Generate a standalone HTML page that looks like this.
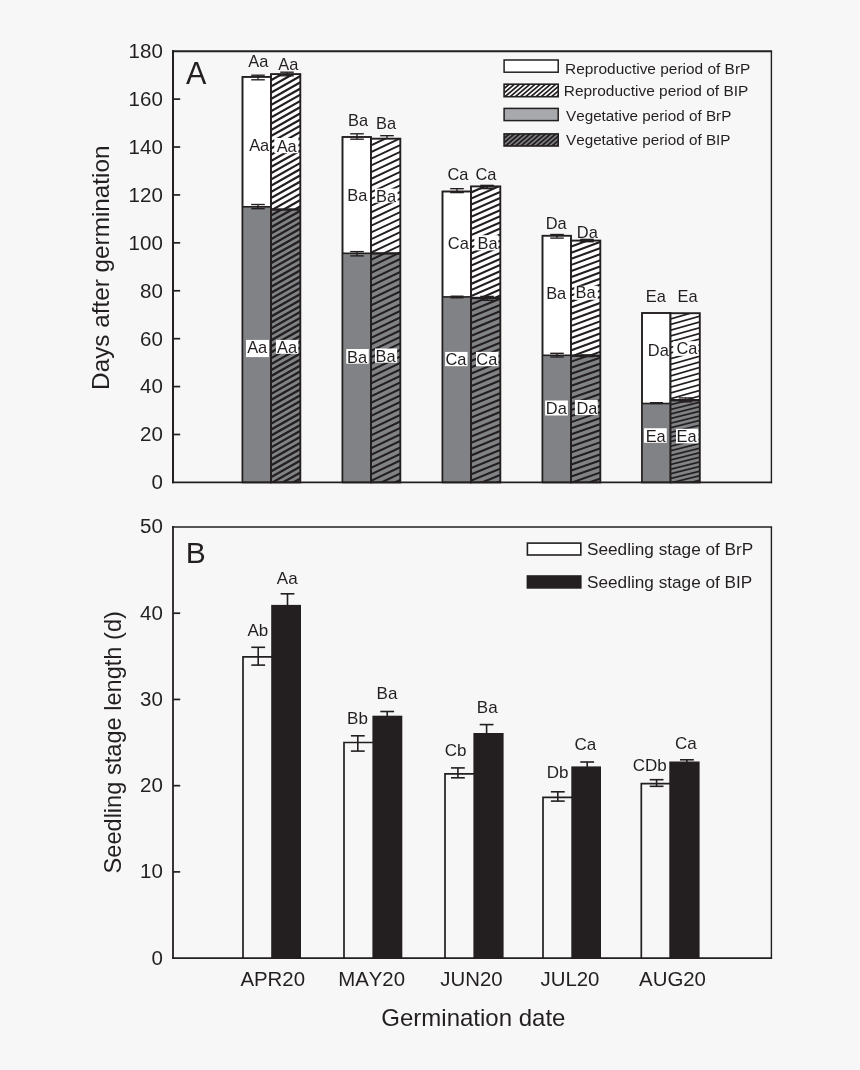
<!DOCTYPE html>
<html><head><meta charset="utf-8"><title>Figure</title>
<style>
html,body{margin:0;padding:0;background:#f7f7f7;}
body{width:860px;height:1070px;overflow:hidden;}
svg{display:block;will-change:transform;}
text{font-family:"Liberation Sans",sans-serif;fill:#231f20;font-kerning:none;}
</style></head><body>
<svg width="860" height="1070" viewBox="0 0 860 1070">
<rect x="0" y="0" width="860" height="1070" fill="#f7f7f7"/>
<defs><clipPath id="c1"><rect x="271.00" y="74.10" width="29.30" height="135.40"/></clipPath><clipPath id="c2"><rect x="271.00" y="209.50" width="29.30" height="272.90"/></clipPath><clipPath id="c3"><rect x="371.00" y="138.70" width="29.30" height="114.70"/></clipPath><clipPath id="c4"><rect x="371.00" y="253.40" width="29.30" height="229.00"/></clipPath><clipPath id="c5"><rect x="471.00" y="186.40" width="29.30" height="111.60"/></clipPath><clipPath id="c6"><rect x="471.00" y="298.00" width="29.30" height="184.40"/></clipPath><clipPath id="c7"><rect x="571.00" y="240.60" width="29.30" height="115.10"/></clipPath><clipPath id="c8"><rect x="571.00" y="355.70" width="29.30" height="126.70"/></clipPath><clipPath id="c9"><rect x="670.50" y="313.20" width="29.30" height="87.00"/></clipPath><clipPath id="c10"><rect x="670.50" y="400.20" width="29.30" height="82.20"/></clipPath><clipPath id="c11"><rect x="504.10" y="84.20" width="54.10" height="12.50"/></clipPath><clipPath id="c12"><rect x="504.10" y="133.90" width="54.10" height="12.10"/></clipPath></defs>
<!--bars A-->
<rect x="242.50" y="76.90" width="28.50" height="405.50" fill="#ffffff" stroke="#231f20" stroke-width="1.55"/>
<rect x="242.50" y="206.80" width="28.50" height="275.60" fill="#808285"/>
<path d="M242.50 206.80L271.00 206.80" stroke="#231f20" stroke-width="1.60" fill="none"/>
<rect x="242.50" y="76.90" width="28.50" height="405.50" fill="none" stroke="#231f20" stroke-width="1.55"/>
<rect x="271.00" y="74.10" width="29.30" height="135.40" fill="#ffffff"/>
<path d="M270.00 68.47L301.30 50.75M270.00 74.67L301.30 56.95M270.00 80.87L301.30 63.15M270.00 87.07L301.30 69.35M270.00 93.27L301.30 75.55M270.00 99.47L301.30 81.75M270.00 105.67L301.30 87.95M270.00 111.87L301.30 94.15M270.00 118.07L301.30 100.35M270.00 124.27L301.30 106.55M270.00 130.47L301.30 112.75M270.00 136.67L301.30 118.95M270.00 142.87L301.30 125.15M270.00 149.07L301.30 131.35M270.00 155.27L301.30 137.55M270.00 161.47L301.30 143.75M270.00 167.67L301.30 149.95M270.00 173.87L301.30 156.15M270.00 180.07L301.30 162.35M270.00 186.27L301.30 168.55M270.00 192.47L301.30 174.75M270.00 198.67L301.30 180.95M270.00 204.87L301.30 187.15M270.00 211.07L301.30 193.35M270.00 217.27L301.30 199.55M270.00 223.47L301.30 205.75M270.00 229.67L301.30 211.95" stroke="#231f20" stroke-width="2.20" fill="none" clip-path="url(#c1)"/>
<rect x="271.00" y="209.50" width="29.30" height="272.90" fill="#808285"/><path d="M270.00 204.12L301.30 186.40M270.00 210.07L301.30 192.35M270.00 216.02L301.30 198.30M270.00 221.97L301.30 204.25M270.00 227.92L301.30 210.20M270.00 233.87L301.30 216.15M270.00 239.82L301.30 222.10M270.00 245.77L301.30 228.05M270.00 251.72L301.30 234.00M270.00 257.67L301.30 239.95M270.00 263.62L301.30 245.90M270.00 269.57L301.30 251.85M270.00 275.52L301.30 257.80M270.00 281.47L301.30 263.75M270.00 287.42L301.30 269.70M270.00 293.37L301.30 275.65M270.00 299.32L301.30 281.60M270.00 305.27L301.30 287.55M270.00 311.22L301.30 293.50M270.00 317.17L301.30 299.45M270.00 323.12L301.30 305.40M270.00 329.07L301.30 311.35M270.00 335.02L301.30 317.30M270.00 340.97L301.30 323.25M270.00 346.92L301.30 329.20M270.00 352.87L301.30 335.15M270.00 358.82L301.30 341.10M270.00 364.77L301.30 347.05M270.00 370.72L301.30 353.00M270.00 376.67L301.30 358.95M270.00 382.62L301.30 364.90M270.00 388.57L301.30 370.85M270.00 394.52L301.30 376.80M270.00 400.47L301.30 382.75M270.00 406.42L301.30 388.70M270.00 412.37L301.30 394.65M270.00 418.32L301.30 400.60M270.00 424.27L301.30 406.55M270.00 430.22L301.30 412.50M270.00 436.17L301.30 418.45M270.00 442.12L301.30 424.40M270.00 448.07L301.30 430.35M270.00 454.02L301.30 436.30M270.00 459.97L301.30 442.25M270.00 465.92L301.30 448.20M270.00 471.87L301.30 454.15M270.00 477.82L301.30 460.10M270.00 483.77L301.30 466.05M270.00 489.72L301.30 472.00M270.00 495.67L301.30 477.95M270.00 501.62L301.30 483.90" stroke="#231f20" stroke-width="2.30" fill="none" clip-path="url(#c2)"/>
<path d="M271.00 209.50L300.30 209.50" stroke="#231f20" stroke-width="2.40" fill="none"/>
<rect x="271.00" y="74.10" width="29.30" height="408.30" fill="none" stroke="#231f20" stroke-width="1.90"/>
<rect x="342.50" y="137.00" width="28.50" height="345.40" fill="#ffffff" stroke="#231f20" stroke-width="1.55"/>
<rect x="342.50" y="253.30" width="28.50" height="229.10" fill="#808285"/>
<path d="M342.50 253.30L371.00 253.30" stroke="#231f20" stroke-width="1.60" fill="none"/>
<rect x="342.50" y="137.00" width="28.50" height="345.40" fill="none" stroke="#231f20" stroke-width="1.55"/>
<rect x="371.00" y="138.70" width="29.30" height="114.70" fill="#ffffff"/>
<path d="M370.00 132.47L401.30 117.76M370.00 139.17L401.30 124.46M370.00 145.87L401.30 131.16M370.00 152.57L401.30 137.86M370.00 159.27L401.30 144.56M370.00 165.97L401.30 151.26M370.00 172.67L401.30 157.96M370.00 179.37L401.30 164.66M370.00 186.07L401.30 171.36M370.00 192.77L401.30 178.06M370.00 199.47L401.30 184.76M370.00 206.17L401.30 191.46M370.00 212.87L401.30 198.16M370.00 219.57L401.30 204.86M370.00 226.27L401.30 211.56M370.00 232.97L401.30 218.26M370.00 239.67L401.30 224.96M370.00 246.37L401.30 231.66M370.00 253.07L401.30 238.36M370.00 259.77L401.30 245.06M370.00 266.47L401.30 251.76M370.00 273.17L401.30 258.46" stroke="#231f20" stroke-width="1.90" fill="none" clip-path="url(#c3)"/>
<rect x="371.00" y="253.40" width="29.30" height="229.00" fill="#808285"/><path d="M370.00 247.38L401.30 232.36M370.00 253.88L401.30 238.86M370.00 260.38L401.30 245.36M370.00 266.88L401.30 251.86M370.00 273.38L401.30 258.36M370.00 279.88L401.30 264.86M370.00 286.38L401.30 271.36M370.00 292.88L401.30 277.86M370.00 299.38L401.30 284.36M370.00 305.88L401.30 290.86M370.00 312.38L401.30 297.36M370.00 318.88L401.30 303.86M370.00 325.38L401.30 310.36M370.00 331.88L401.30 316.86M370.00 338.38L401.30 323.36M370.00 344.88L401.30 329.86M370.00 351.38L401.30 336.36M370.00 357.88L401.30 342.86M370.00 364.38L401.30 349.36M370.00 370.88L401.30 355.86M370.00 377.38L401.30 362.36M370.00 383.88L401.30 368.86M370.00 390.38L401.30 375.36M370.00 396.88L401.30 381.86M370.00 403.38L401.30 388.36M370.00 409.88L401.30 394.86M370.00 416.38L401.30 401.36M370.00 422.88L401.30 407.86M370.00 429.38L401.30 414.36M370.00 435.88L401.30 420.86M370.00 442.38L401.30 427.36M370.00 448.88L401.30 433.86M370.00 455.38L401.30 440.36M370.00 461.88L401.30 446.86M370.00 468.38L401.30 453.36M370.00 474.88L401.30 459.86M370.00 481.38L401.30 466.36M370.00 487.88L401.30 472.86M370.00 494.38L401.30 479.36M370.00 500.88L401.30 485.86" stroke="#231f20" stroke-width="2.10" fill="none" clip-path="url(#c4)"/>
<path d="M371.00 253.40L400.30 253.40" stroke="#231f20" stroke-width="2.40" fill="none"/>
<rect x="371.00" y="138.70" width="29.30" height="343.70" fill="none" stroke="#231f20" stroke-width="1.90"/>
<rect x="442.50" y="191.50" width="28.50" height="290.90" fill="#ffffff" stroke="#231f20" stroke-width="1.55"/>
<rect x="442.50" y="296.90" width="28.50" height="185.50" fill="#808285"/>
<path d="M442.50 296.90L471.00 296.90" stroke="#231f20" stroke-width="1.60" fill="none"/>
<rect x="442.50" y="191.50" width="28.50" height="290.90" fill="none" stroke="#231f20" stroke-width="1.55"/>
<rect x="471.00" y="186.40" width="29.30" height="111.60" fill="#ffffff"/>
<path d="M470.00 180.74L501.30 166.97M470.00 186.84L501.30 173.07M470.00 192.94L501.30 179.17M470.00 199.04L501.30 185.27M470.00 205.14L501.30 191.37M470.00 211.24L501.30 197.47M470.00 217.34L501.30 203.57M470.00 223.44L501.30 209.67M470.00 229.54L501.30 215.77M470.00 235.64L501.30 221.87M470.00 241.74L501.30 227.97M470.00 247.84L501.30 234.07M470.00 253.94L501.30 240.17M470.00 260.04L501.30 246.27M470.00 266.14L501.30 252.37M470.00 272.24L501.30 258.47M470.00 278.34L501.30 264.57M470.00 284.44L501.30 270.67M470.00 290.54L501.30 276.77M470.00 296.64L501.30 282.87M470.00 302.74L501.30 288.97M470.00 308.84L501.30 295.07M470.00 314.94L501.30 301.17" stroke="#231f20" stroke-width="2.10" fill="none" clip-path="url(#c5)"/>
<rect x="471.00" y="298.00" width="29.30" height="184.40" fill="#808285"/><path d="M470.00 292.11L501.30 279.28M470.00 298.41L501.30 285.58M470.00 304.71L501.30 291.88M470.00 311.01L501.30 298.18M470.00 317.31L501.30 304.48M470.00 323.61L501.30 310.78M470.00 329.91L501.30 317.08M470.00 336.21L501.30 323.38M470.00 342.51L501.30 329.68M470.00 348.81L501.30 335.98M470.00 355.11L501.30 342.28M470.00 361.41L501.30 348.58M470.00 367.71L501.30 354.88M470.00 374.01L501.30 361.18M470.00 380.31L501.30 367.48M470.00 386.61L501.30 373.78M470.00 392.91L501.30 380.08M470.00 399.21L501.30 386.38M470.00 405.51L501.30 392.68M470.00 411.81L501.30 398.98M470.00 418.11L501.30 405.28M470.00 424.41L501.30 411.58M470.00 430.71L501.30 417.88M470.00 437.01L501.30 424.18M470.00 443.31L501.30 430.48M470.00 449.61L501.30 436.78M470.00 455.91L501.30 443.08M470.00 462.21L501.30 449.38M470.00 468.51L501.30 455.68M470.00 474.81L501.30 461.98M470.00 481.11L501.30 468.28M470.00 487.41L501.30 474.58M470.00 493.71L501.30 480.88M470.00 500.01L501.30 487.18" stroke="#231f20" stroke-width="2.10" fill="none" clip-path="url(#c6)"/>
<path d="M471.00 298.00L500.30 298.00" stroke="#231f20" stroke-width="2.40" fill="none"/>
<rect x="471.00" y="186.40" width="29.30" height="296.00" fill="none" stroke="#231f20" stroke-width="1.90"/>
<rect x="542.50" y="235.70" width="28.50" height="246.70" fill="#ffffff" stroke="#231f20" stroke-width="1.55"/>
<rect x="542.50" y="355.30" width="28.50" height="127.10" fill="#808285"/>
<path d="M542.50 355.30L571.00 355.30" stroke="#231f20" stroke-width="1.60" fill="none"/>
<rect x="542.50" y="235.70" width="28.50" height="246.70" fill="none" stroke="#231f20" stroke-width="1.55"/>
<rect x="571.00" y="240.60" width="29.30" height="115.10" fill="#ffffff"/>
<path d="M570.00 234.87L601.30 223.29M570.00 240.97L601.30 229.39M570.00 247.07L601.30 235.49M570.00 253.17L601.30 241.59M570.00 259.27L601.30 247.69M570.00 265.37L601.30 253.79M570.00 271.47L601.30 259.89M570.00 277.57L601.30 265.99M570.00 283.67L601.30 272.09M570.00 289.77L601.30 278.19M570.00 295.87L601.30 284.29M570.00 301.97L601.30 290.39M570.00 308.07L601.30 296.49M570.00 314.17L601.30 302.59M570.00 320.27L601.30 308.69M570.00 326.37L601.30 314.79M570.00 332.47L601.30 320.89M570.00 338.57L601.30 326.99M570.00 344.67L601.30 333.09M570.00 350.77L601.30 339.19M570.00 356.87L601.30 345.29M570.00 362.97L601.30 351.39M570.00 369.07L601.30 357.49" stroke="#231f20" stroke-width="2.10" fill="none" clip-path="url(#c7)"/>
<rect x="571.00" y="355.70" width="29.30" height="126.70" fill="#808285"/><path d="M570.00 350.00L601.30 339.04M570.00 356.05L601.30 345.09M570.00 362.10L601.30 351.14M570.00 368.15L601.30 357.19M570.00 374.20L601.30 363.25M570.00 380.25L601.30 369.30M570.00 386.30L601.30 375.35M570.00 392.35L601.30 381.40M570.00 398.40L601.30 387.45M570.00 404.45L601.30 393.50M570.00 410.50L601.30 399.55M570.00 416.55L601.30 405.60M570.00 422.60L601.30 411.65M570.00 428.65L601.30 417.70M570.00 434.70L601.30 423.75M570.00 440.75L601.30 429.80M570.00 446.80L601.30 435.85M570.00 452.85L601.30 441.90M570.00 458.90L601.30 447.95M570.00 464.95L601.30 454.00M570.00 471.00L601.30 460.05M570.00 477.05L601.30 466.10M570.00 483.10L601.30 472.15M570.00 489.15L601.30 478.20M570.00 495.20L601.30 484.25" stroke="#231f20" stroke-width="2.10" fill="none" clip-path="url(#c8)"/>
<path d="M571.00 355.70L600.30 355.70" stroke="#231f20" stroke-width="2.40" fill="none"/>
<rect x="571.00" y="240.60" width="29.30" height="241.80" fill="none" stroke="#231f20" stroke-width="1.90"/>
<rect x="642.00" y="313.00" width="28.50" height="169.40" fill="#ffffff" stroke="#231f20" stroke-width="1.55"/>
<rect x="642.00" y="403.50" width="28.50" height="78.90" fill="#808285"/>
<path d="M642.00 403.50L670.50 403.50" stroke="#231f20" stroke-width="1.60" fill="none"/>
<rect x="642.00" y="313.00" width="28.50" height="169.40" fill="none" stroke="#231f20" stroke-width="1.55"/>
<rect x="670.50" y="313.20" width="29.30" height="87.00" fill="#ffffff"/>
<path d="M669.50 307.79L700.80 298.86M669.50 313.49L700.80 304.56M669.50 319.19L700.80 310.26M669.50 324.88L700.80 315.96M669.50 330.58L700.80 321.66M669.50 336.28L700.80 327.36M669.50 341.98L700.80 333.06M669.50 347.68L700.80 338.76M669.50 353.38L700.80 344.46M669.50 359.08L700.80 350.16M669.50 364.78L700.80 355.86M669.50 370.48L700.80 361.56M669.50 376.18L700.80 367.26M669.50 381.88L700.80 372.96M669.50 387.58L700.80 378.66M669.50 393.28L700.80 384.36M669.50 398.98L700.80 390.06M669.50 404.68L700.80 395.76M669.50 410.38L700.80 401.46" stroke="#231f20" stroke-width="1.70" fill="none" clip-path="url(#c9)"/>
<rect x="670.50" y="400.20" width="29.30" height="82.20" fill="#808285"/><path d="M669.50 395.85L700.80 388.02M669.50 400.45L700.80 392.62M669.50 405.05L700.80 397.23M669.50 409.65L700.80 401.83M669.50 414.25L700.80 406.43M669.50 418.85L700.80 411.03M669.50 423.45L700.80 415.63M669.50 428.05L700.80 420.23M669.50 432.65L700.80 424.83M669.50 437.25L700.80 429.43M669.50 441.85L700.80 434.03M669.50 446.45L700.80 438.63M669.50 451.05L700.80 443.23M669.50 455.65L700.80 447.83M669.50 460.25L700.80 452.43M669.50 464.85L700.80 457.03M669.50 469.45L700.80 461.63M669.50 474.05L700.80 466.23M669.50 478.65L700.80 470.83M669.50 483.25L700.80 475.43M669.50 487.85L700.80 480.03M669.50 492.45L700.80 484.63" stroke="#231f20" stroke-width="1.70" fill="none" clip-path="url(#c10)"/>
<path d="M670.50 400.20L699.80 400.20" stroke="#231f20" stroke-width="2.40" fill="none"/>
<rect x="670.50" y="313.20" width="29.30" height="169.20" fill="none" stroke="#231f20" stroke-width="1.90"/>
<path d="M258.00 75.20L258.00 79.80" stroke="#231f20" stroke-width="1.35" fill="none"/><path d="M251.20 75.20L264.80 75.20" stroke="#231f20" stroke-width="1.35" fill="none"/><path d="M251.20 79.80L264.80 79.80" stroke="#231f20" stroke-width="1.35" fill="none"/>
<path d="M287.00 72.20L287.00 75.80" stroke="#231f20" stroke-width="1.35" fill="none"/><path d="M280.20 72.20L293.80 72.20" stroke="#231f20" stroke-width="1.35" fill="none"/><path d="M280.20 75.80L293.80 75.80" stroke="#231f20" stroke-width="1.35" fill="none"/>
<path d="M258.00 204.50L258.00 208.70" stroke="#231f20" stroke-width="1.35" fill="none"/><path d="M251.20 204.50L264.80 204.50" stroke="#231f20" stroke-width="1.35" fill="none"/><path d="M251.20 208.70L264.80 208.70" stroke="#231f20" stroke-width="1.35" fill="none"/>
<path d="M357.00 133.80L357.00 139.20" stroke="#231f20" stroke-width="1.35" fill="none"/><path d="M350.20 133.80L363.80 133.80" stroke="#231f20" stroke-width="1.35" fill="none"/><path d="M350.20 139.20L363.80 139.20" stroke="#231f20" stroke-width="1.35" fill="none"/>
<path d="M387.00 135.70L387.00 138.70" stroke="#231f20" stroke-width="1.35" fill="none"/><path d="M380.20 135.70L393.80 135.70" stroke="#231f20" stroke-width="1.35" fill="none"/>
<path d="M357.00 251.60L357.00 255.90" stroke="#231f20" stroke-width="1.35" fill="none"/><path d="M350.20 251.60L363.80 251.60" stroke="#231f20" stroke-width="1.35" fill="none"/><path d="M350.20 255.90L363.80 255.90" stroke="#231f20" stroke-width="1.35" fill="none"/>
<path d="M457.00 188.70L457.00 192.60" stroke="#231f20" stroke-width="1.35" fill="none"/><path d="M450.20 188.70L463.80 188.70" stroke="#231f20" stroke-width="1.35" fill="none"/><path d="M450.20 192.60L463.80 192.60" stroke="#231f20" stroke-width="1.35" fill="none"/>
<path d="M487.00 185.60L487.00 188.40" stroke="#231f20" stroke-width="1.80" fill="none"/><path d="M480.20 185.60L493.80 185.60" stroke="#231f20" stroke-width="1.80" fill="none"/><path d="M480.20 188.40L493.80 188.40" stroke="#231f20" stroke-width="1.80" fill="none"/>
<path d="M457.00 296.20L457.00 297.80" stroke="#231f20" stroke-width="1.35" fill="none"/><path d="M450.50 296.20L463.50 296.20" stroke="#231f20" stroke-width="1.35" fill="none"/><path d="M450.50 297.80L463.50 297.80" stroke="#231f20" stroke-width="1.35" fill="none"/>
<path d="M487.00 296.40L487.00 300.30" stroke="#231f20" stroke-width="1.35" fill="none"/><path d="M480.20 296.40L493.80 296.40" stroke="#231f20" stroke-width="1.35" fill="none"/><path d="M480.20 300.30L493.80 300.30" stroke="#231f20" stroke-width="1.35" fill="none"/>
<path d="M557.00 234.50L557.00 238.10" stroke="#231f20" stroke-width="1.35" fill="none"/><path d="M550.20 234.50L563.80 234.50" stroke="#231f20" stroke-width="1.35" fill="none"/><path d="M550.20 238.10L563.80 238.10" stroke="#231f20" stroke-width="1.35" fill="none"/>
<path d="M587.00 239.50L587.00 241.60" stroke="#231f20" stroke-width="1.60" fill="none"/><path d="M580.20 239.50L593.80 239.50" stroke="#231f20" stroke-width="1.60" fill="none"/><path d="M580.20 241.60L593.80 241.60" stroke="#231f20" stroke-width="1.60" fill="none"/>
<path d="M557.00 353.30L557.00 357.00" stroke="#231f20" stroke-width="1.35" fill="none"/><path d="M550.20 353.30L563.80 353.30" stroke="#231f20" stroke-width="1.35" fill="none"/><path d="M550.20 357.00L563.80 357.00" stroke="#231f20" stroke-width="1.35" fill="none"/>
<path d="M587.00 355.00L587.00 356.60" stroke="#231f20" stroke-width="1.40" fill="none"/><path d="M580.20 355.00L593.80 355.00" stroke="#231f20" stroke-width="1.40" fill="none"/><path d="M580.20 356.60L593.80 356.60" stroke="#231f20" stroke-width="1.40" fill="none"/>
<path d="M656.50 402.60L656.50 403.60" stroke="#231f20" stroke-width="1.20" fill="none"/><path d="M650.00 402.60L663.00 402.60" stroke="#231f20" stroke-width="1.20" fill="none"/><path d="M650.00 403.60L663.00 403.60" stroke="#231f20" stroke-width="1.20" fill="none"/>
<path d="M685.50 397.90L685.50 401.90" stroke="#231f20" stroke-width="1.35" fill="none"/><path d="M678.70 397.90L692.30 397.90" stroke="#231f20" stroke-width="1.35" fill="none"/><path d="M678.70 401.90L692.30 401.90" stroke="#231f20" stroke-width="1.35" fill="none"/>
<text x="258.30" y="66.80" font-size="16.40" text-anchor="middle" >Aa</text>
<text x="288.30" y="69.60" font-size="16.40" text-anchor="middle" >Aa</text>
<text x="358.10" y="125.60" font-size="16.40" text-anchor="middle" >Ba</text>
<text x="386.10" y="128.60" font-size="16.40" text-anchor="middle" >Ba</text>
<text x="458.00" y="179.70" font-size="16.40" text-anchor="middle" >Ca</text>
<text x="486.00" y="179.70" font-size="16.40" text-anchor="middle" >Ca</text>
<text x="556.20" y="228.60" font-size="16.40" text-anchor="middle" >Da</text>
<text x="587.30" y="237.60" font-size="16.40" text-anchor="middle" >Da</text>
<text x="655.80" y="302.00" font-size="16.40" text-anchor="middle" >Ea</text>
<text x="687.60" y="302.00" font-size="16.40" text-anchor="middle" >Ea</text>
<text x="259.20" y="150.90" font-size="16.40" text-anchor="middle" >Aa</text>
<rect x="274.30" y="138.00" width="24.10" height="15.20" fill="#ffffff"/><text x="286.70" y="152.00" font-size="16.40" text-anchor="middle" >Aa</text>
<text x="357.30" y="201.20" font-size="16.40" text-anchor="middle" >Ba</text>
<rect x="375.00" y="188.60" width="22.60" height="14.00" fill="#ffffff"/><text x="386.00" y="201.60" font-size="16.40" text-anchor="middle" >Ba</text>
<text x="458.30" y="248.70" font-size="16.40" text-anchor="middle" >Ca</text>
<rect x="474.30" y="235.20" width="24.10" height="15.20" fill="#ffffff"/><text x="487.50" y="248.70" font-size="16.40" text-anchor="middle" >Ba</text>
<text x="556.20" y="298.70" font-size="16.40" text-anchor="middle" >Ba</text>
<rect x="574.30" y="285.80" width="23.50" height="14.00" fill="#ffffff"/><text x="585.50" y="298.10" font-size="16.40" text-anchor="middle" >Ba</text>
<text x="658.30" y="355.80" font-size="16.40" text-anchor="middle" >Da</text>
<rect x="673.20" y="341.20" width="25.20" height="14.60" fill="#ffffff"/><text x="686.90" y="354.30" font-size="16.40" text-anchor="middle" >Ca</text>
<rect x="246.00" y="339.90" width="23.00" height="17.20" fill="#ffffff"/><text x="257.20" y="352.70" font-size="16.40" text-anchor="middle" >Aa</text>
<rect x="275.90" y="339.90" width="22.40" height="13.90" fill="#ffffff"/><text x="287.10" y="352.70" font-size="16.40" text-anchor="middle" >Aa</text>
<rect x="346.20" y="349.00" width="22.60" height="14.70" fill="#ffffff"/><text x="357.10" y="362.90" font-size="16.40" text-anchor="middle" >Ba</text>
<rect x="375.00" y="348.50" width="22.10" height="14.20" fill="#ffffff"/><text x="385.60" y="361.90" font-size="16.40" text-anchor="middle" >Ba</text>
<rect x="445.10" y="351.90" width="22.50" height="14.30" fill="#ffffff"/><text x="456.00" y="364.90" font-size="16.40" text-anchor="middle" >Ca</text>
<rect x="476.00" y="351.90" width="22.40" height="14.30" fill="#ffffff"/><text x="486.80" y="364.90" font-size="16.40" text-anchor="middle" >Ca</text>
<rect x="545.10" y="400.50" width="22.80" height="15.00" fill="#ffffff"/><text x="556.30" y="414.00" font-size="16.40" text-anchor="middle" >Da</text>
<rect x="574.90" y="400.00" width="22.90" height="15.10" fill="#ffffff"/><text x="587.00" y="414.00" font-size="16.40" text-anchor="middle" >Da</text>
<rect x="644.00" y="428.20" width="22.80" height="14.60" fill="#ffffff"/><text x="655.70" y="441.70" font-size="16.40" text-anchor="middle" >Ea</text>
<rect x="676.00" y="428.80" width="22.40" height="14.60" fill="#ffffff"/><text x="686.60" y="441.90" font-size="16.40" text-anchor="middle" >Ea</text>
<path d="M173.00 50.20L173.00 483.30" stroke="#231f20" stroke-width="2.00" fill="none"/>
<path d="M172.00 51.20L772.10 51.20" stroke="#231f20" stroke-width="2.00" fill="none"/>
<path d="M771.40 51.20L771.40 483.20" stroke="#231f20" stroke-width="1.40" fill="none"/>
<path d="M172.00 482.40L772.10 482.40" stroke="#231f20" stroke-width="1.70" fill="none"/>
<text x="162.80" y="58.10" font-size="20.50" text-anchor="end" >180</text>
<path d="M173.00 99.11L180.20 99.11" stroke="#231f20" stroke-width="1.70" fill="none"/>
<text x="162.80" y="106.01" font-size="20.50" text-anchor="end" >160</text>
<path d="M173.00 147.02L180.20 147.02" stroke="#231f20" stroke-width="1.70" fill="none"/>
<text x="162.80" y="153.92" font-size="20.50" text-anchor="end" >140</text>
<path d="M173.00 194.93L180.20 194.93" stroke="#231f20" stroke-width="1.70" fill="none"/>
<text x="162.80" y="201.83" font-size="20.50" text-anchor="end" >120</text>
<path d="M173.00 242.84L180.20 242.84" stroke="#231f20" stroke-width="1.70" fill="none"/>
<text x="162.80" y="249.74" font-size="20.50" text-anchor="end" >100</text>
<path d="M173.00 290.76L180.20 290.76" stroke="#231f20" stroke-width="1.70" fill="none"/>
<text x="162.80" y="297.66" font-size="20.50" text-anchor="end" >80</text>
<path d="M173.00 338.67L180.20 338.67" stroke="#231f20" stroke-width="1.70" fill="none"/>
<text x="162.80" y="345.57" font-size="20.50" text-anchor="end" >60</text>
<path d="M173.00 386.58L180.20 386.58" stroke="#231f20" stroke-width="1.70" fill="none"/>
<text x="162.80" y="393.48" font-size="20.50" text-anchor="end" >40</text>
<path d="M173.00 434.49L180.20 434.49" stroke="#231f20" stroke-width="1.70" fill="none"/>
<text x="162.80" y="441.39" font-size="20.50" text-anchor="end" >20</text>
<text x="162.80" y="489.30" font-size="20.50" text-anchor="end" >0</text>
<text x="186.00" y="83.80" font-size="30.50" text-anchor="start" >A</text>
<text transform="translate(109.2,267.7) rotate(-90)" font-size="24.3" text-anchor="middle">Days after germination</text>
<rect x="504.10" y="60.00" width="54.10" height="12.20" fill="#ffffff" stroke="#231f20" stroke-width="1.50"/>
<rect x="504.10" y="84.20" width="54.10" height="12.50" fill="#ffffff"/>
<path d="M503.10 80.65L559.20 32.96M503.10 85.05L559.20 37.36M503.10 89.45L559.20 41.76M503.10 93.85L559.20 46.16M503.10 98.25L559.20 50.56M503.10 102.65L559.20 54.97M503.10 107.05L559.20 59.37M503.10 111.45L559.20 63.77M503.10 115.85L559.20 68.17M503.10 120.25L559.20 72.57M503.10 124.65L559.20 76.97M503.10 129.05L559.20 81.37M503.10 133.45L559.20 85.77M503.10 137.85L559.20 90.17M503.10 142.25L559.20 94.57M503.10 146.65L559.20 98.97" stroke="#231f20" stroke-width="1.70" fill="none" clip-path="url(#c11)"/>
<rect x="504.10" y="84.20" width="54.10" height="12.50" fill="none" stroke="#231f20" stroke-width="1.60"/>
<rect x="504.10" y="108.40" width="54.10" height="12.20" fill="#a7a9ac" stroke="#231f20" stroke-width="1.50"/>
<rect x="504.10" y="133.90" width="54.10" height="12.10" fill="#808285"/><path d="M503.10 130.35L559.20 82.66M503.10 134.75L559.20 87.06M503.10 139.15L559.20 91.46M503.10 143.55L559.20 95.86M503.10 147.95L559.20 100.26M503.10 152.35L559.20 104.66M503.10 156.75L559.20 109.06M503.10 161.15L559.20 113.47M503.10 165.55L559.20 117.87M503.10 169.95L559.20 122.27M503.10 174.35L559.20 126.67M503.10 178.75L559.20 131.07M503.10 183.15L559.20 135.47M503.10 187.55L559.20 139.87M503.10 191.95L559.20 144.27M503.10 196.35L559.20 148.67" stroke="#231f20" stroke-width="1.80" fill="none" clip-path="url(#c12)"/>
<rect x="504.10" y="133.90" width="54.10" height="12.10" fill="none" stroke="#231f20" stroke-width="1.60"/>
<text x="565.00" y="73.90" font-size="15.45" text-anchor="start" >Reproductive period of BrP</text>
<text x="563.80" y="95.90" font-size="15.45" text-anchor="start" >Reproductive period of BIP</text>
<text x="566.00" y="120.80" font-size="15.25" text-anchor="start" >Vegetative period of BrP</text>
<text x="566.00" y="145.20" font-size="15.25" text-anchor="start" >Vegetative period of BIP</text>
<path d="M243.00 958.10L243.00 656.80L272.20 656.80" fill="none" stroke="#231f20" stroke-width="1.7"/>
<rect x="271.20" y="604.90" width="29.80" height="353.20" fill="#231f20"/>
<path d="M344.00 958.10L344.00 742.50L373.40 742.50" fill="none" stroke="#231f20" stroke-width="1.7"/>
<rect x="372.40" y="715.70" width="29.90" height="242.40" fill="#231f20"/>
<path d="M445.00 958.10L445.00 773.90L474.40 773.90" fill="none" stroke="#231f20" stroke-width="1.7"/>
<rect x="473.40" y="733.00" width="30.20" height="225.10" fill="#231f20"/>
<path d="M543.00 958.10L543.00 797.30L572.30 797.30" fill="none" stroke="#231f20" stroke-width="1.7"/>
<rect x="571.30" y="766.40" width="29.70" height="191.70" fill="#231f20"/>
<path d="M641.30 958.10L641.30 783.60L670.30 783.60" fill="none" stroke="#231f20" stroke-width="1.7"/>
<rect x="669.30" y="761.50" width="30.30" height="196.60" fill="#231f20"/>
<path d="M258.20 647.30L258.20 665.10" stroke="#231f20" stroke-width="1.60" fill="none"/><path d="M251.30 647.30L265.10 647.30" stroke="#231f20" stroke-width="1.60" fill="none"/><path d="M251.30 665.10L265.10 665.10" stroke="#231f20" stroke-width="1.60" fill="none"/>
<path d="M287.50 593.80L287.50 605.90" stroke="#231f20" stroke-width="1.60" fill="none"/><path d="M280.60 593.80L294.40 593.80" stroke="#231f20" stroke-width="1.60" fill="none"/>
<path d="M357.80 735.80L357.80 751.10" stroke="#231f20" stroke-width="1.60" fill="none"/><path d="M350.90 735.80L364.70 735.80" stroke="#231f20" stroke-width="1.60" fill="none"/><path d="M350.90 751.10L364.70 751.10" stroke="#231f20" stroke-width="1.60" fill="none"/>
<path d="M387.20 711.50L387.20 716.70" stroke="#231f20" stroke-width="1.60" fill="none"/><path d="M380.30 711.50L394.10 711.50" stroke="#231f20" stroke-width="1.60" fill="none"/>
<path d="M457.90 767.90L457.90 777.80" stroke="#231f20" stroke-width="1.60" fill="none"/><path d="M451.00 767.90L464.80 767.90" stroke="#231f20" stroke-width="1.60" fill="none"/><path d="M451.00 777.80L464.80 777.80" stroke="#231f20" stroke-width="1.60" fill="none"/>
<path d="M486.60 724.60L486.60 734.00" stroke="#231f20" stroke-width="1.60" fill="none"/><path d="M479.70 724.60L493.50 724.60" stroke="#231f20" stroke-width="1.60" fill="none"/>
<path d="M557.80 791.80L557.80 801.10" stroke="#231f20" stroke-width="1.60" fill="none"/><path d="M550.90 791.80L564.70 791.80" stroke="#231f20" stroke-width="1.60" fill="none"/><path d="M550.90 801.10L564.70 801.10" stroke="#231f20" stroke-width="1.60" fill="none"/>
<path d="M587.20 762.00L587.20 767.40" stroke="#231f20" stroke-width="1.60" fill="none"/><path d="M580.30 762.00L594.10 762.00" stroke="#231f20" stroke-width="1.60" fill="none"/>
<path d="M656.60 779.70L656.60 786.30" stroke="#231f20" stroke-width="1.60" fill="none"/><path d="M649.70 779.70L663.50 779.70" stroke="#231f20" stroke-width="1.60" fill="none"/><path d="M649.70 786.30L663.50 786.30" stroke="#231f20" stroke-width="1.60" fill="none"/>
<path d="M686.90 759.80L686.90 762.50" stroke="#231f20" stroke-width="1.60" fill="none"/><path d="M680.00 759.80L693.80 759.80" stroke="#231f20" stroke-width="1.60" fill="none"/>
<text x="257.90" y="636.20" font-size="17.00" text-anchor="middle" >Ab</text>
<text x="287.20" y="583.60" font-size="17.00" text-anchor="middle" >Aa</text>
<text x="357.50" y="723.70" font-size="17.00" text-anchor="middle" >Bb</text>
<text x="387.00" y="698.70" font-size="17.00" text-anchor="middle" >Ba</text>
<text x="455.60" y="755.70" font-size="17.00" text-anchor="middle" >Cb</text>
<text x="487.20" y="713.00" font-size="17.00" text-anchor="middle" >Ba</text>
<text x="557.60" y="777.90" font-size="17.00" text-anchor="middle" >Db</text>
<text x="585.40" y="749.80" font-size="17.00" text-anchor="middle" >Ca</text>
<text x="649.70" y="771.30" font-size="17.00" text-anchor="middle" >CDb</text>
<text x="685.80" y="748.70" font-size="17.00" text-anchor="middle" >Ca</text>
<path d="M173.00 526.10L173.00 959.00" stroke="#231f20" stroke-width="1.80" fill="none"/>
<path d="M172.10 527.00L772.10 527.00" stroke="#231f20" stroke-width="1.70" fill="none"/>
<path d="M771.40 527.00L771.40 958.90" stroke="#231f20" stroke-width="1.40" fill="none"/>
<path d="M172.10 958.10L772.10 958.10" stroke="#231f20" stroke-width="1.70" fill="none"/>
<text x="162.80" y="533.40" font-size="20.50" text-anchor="end" >50</text>
<path d="M173.00 613.22L180.20 613.22" stroke="#231f20" stroke-width="1.70" fill="none"/>
<text x="162.80" y="619.62" font-size="20.50" text-anchor="end" >40</text>
<path d="M173.00 699.44L180.20 699.44" stroke="#231f20" stroke-width="1.70" fill="none"/>
<text x="162.80" y="705.84" font-size="20.50" text-anchor="end" >30</text>
<path d="M173.00 785.66L180.20 785.66" stroke="#231f20" stroke-width="1.70" fill="none"/>
<text x="162.80" y="792.06" font-size="20.50" text-anchor="end" >20</text>
<path d="M173.00 871.88L180.20 871.88" stroke="#231f20" stroke-width="1.70" fill="none"/>
<text x="162.80" y="878.28" font-size="20.50" text-anchor="end" >10</text>
<text x="162.80" y="964.50" font-size="20.50" text-anchor="end" >0</text>
<text x="185.70" y="562.50" font-size="30.00" text-anchor="start" >B</text>
<text transform="translate(121.0,742.3) rotate(-90)" font-size="23.6" text-anchor="middle">Seedling stage length (d)</text>
<rect x="527.40" y="543.10" width="53.40" height="11.90" fill="#ffffff" stroke="#231f20" stroke-width="1.60"/>
<rect x="526.6" y="575.2" width="55" height="13.5" fill="#231f20"/>
<text x="587.00" y="554.80" font-size="17.20" text-anchor="start" >Seedling stage of BrP</text>
<text x="587.00" y="587.80" font-size="17.20" text-anchor="start" >Seedling stage of BIP</text>
<text x="272.70" y="985.70" font-size="20.40" text-anchor="middle" >APR20</text>
<text x="371.60" y="985.70" font-size="20.40" text-anchor="middle" >MAY20</text>
<text x="471.50" y="985.70" font-size="20.40" text-anchor="middle" >JUN20</text>
<text x="570.00" y="985.70" font-size="20.40" text-anchor="middle" >JUL20</text>
<text x="672.50" y="985.70" font-size="20.40" text-anchor="middle" >AUG20</text>
<text x="473.40" y="1026.00" font-size="24.00" text-anchor="middle" >Germination date</text>
</svg>
</body></html>
